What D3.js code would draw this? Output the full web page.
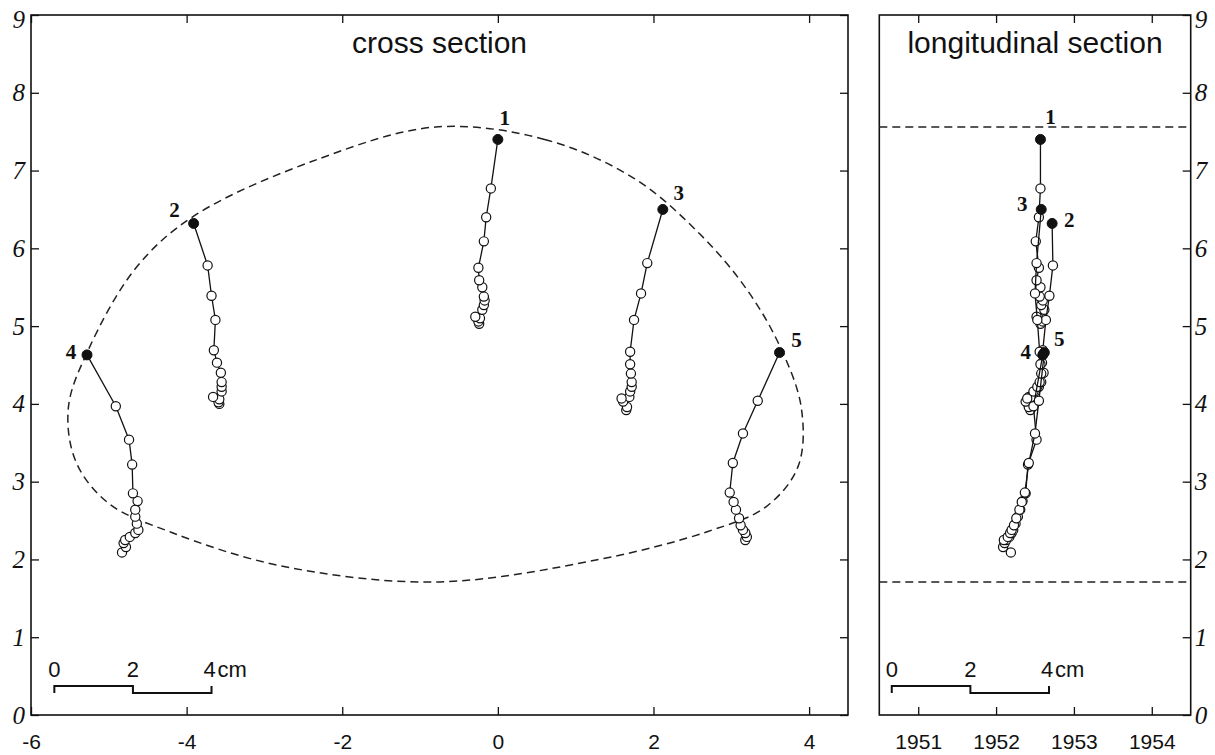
<!DOCTYPE html>
<html>
<head>
<meta charset="utf-8">
<script src="https://cdn.jsdelivr.net/npm/d3@7"></script>
<style>
  html, body { margin: 0; padding: 0; background: #fff; }
  svg { display: block; }
</style>
</head>
<body>
<svg id="chart" width="1215" height="755"></svg>
<script>
// ---------------- DATA ----------------
const panelTitles = ["cross section", "longitudinal section"];
const crossXTicks = [-6, -4, -2, 0, 2, 4];
const longXTicks = [1951, 1952, 1953, 1954];
const yTicks = [0, 1, 2, 3, 4, 5, 6, 7, 8, 9];
const scaleBarLabels = ["0", "2", "4"];
const scaleBarUnit = "cm";
const seriesIds = ["1", "2", "3", "4", "5"];

// series 1
const s1X = [0.00, -0.09, -0.15, -0.18, -0.25, -0.24, -0.20, -0.18, -0.17, -0.18, -0.20, -0.29, -0.23, -0.25, -0.24];
const s1Y = [7.40, 6.77, 6.40, 6.09, 5.75, 5.59, 5.50, 5.38, 5.33, 5.27, 5.21, 5.12, 5.10, 5.06, 5.03];
const s1L = [1952.57, 1952.57, 1952.55, 1952.51, 1952.55, 1952.52, 1952.57, 1952.56, 1952.60, 1952.58, 1952.62, 1952.52, 1952.55, 1952.60, 1952.57];
// series 2
const s2X = [-3.91, -3.73, -3.68, -3.63, -3.65, -3.61, -3.56, -3.55, -3.55, -3.55, -3.66, -3.58, -3.59, -3.58];
const s2Y = [6.32, 5.78, 5.39, 5.08, 4.69, 4.53, 4.40, 4.28, 4.22, 4.16, 4.09, 4.06, 4.02, 4.00];
const s2L = [1952.72, 1952.73, 1952.685, 1952.64, 1952.60, 1952.59, 1952.61, 1952.58, 1952.55, 1952.50, 1952.42, 1952.45, 1952.40, 1952.43];
// series 3
const s3X = [2.12, 1.92, 1.84, 1.75, 1.70, 1.70, 1.71, 1.72, 1.72, 1.70, 1.59, 1.69, 1.61, 1.66, 1.65];
const s3Y = [6.50, 5.81, 5.42, 5.08, 4.67, 4.51, 4.39, 4.28, 4.22, 4.16, 4.07, 4.09, 4.03, 3.96, 3.92];
const s3L = [1952.58, 1952.52, 1952.50, 1952.53, 1952.56, 1952.57, 1952.58, 1952.56, 1952.53, 1952.48, 1952.40, 1952.45, 1952.38, 1952.42, 1952.44];
// series 4
const s4X = [-5.28, -4.91, -4.74, -4.70, -4.69, -4.63, -4.66, -4.66, -4.64, -4.62, -4.66, -4.73, -4.79, -4.81, -4.78, -4.83];
const s4Y = [4.63, 3.97, 3.54, 3.22, 2.85, 2.75, 2.64, 2.55, 2.46, 2.38, 2.34, 2.29, 2.25, 2.21, 2.16, 2.09];
const s4L = [1952.60, 1952.48, 1952.52, 1952.41, 1952.38, 1952.34, 1952.31, 1952.28, 1952.25, 1952.22, 1952.20, 1952.17, 1952.13, 1952.11, 1952.09, 1952.19];
// series 5
const s5X = [3.62, 3.34, 3.15, 3.02, 2.98, 3.03, 3.06, 3.10, 3.12, 3.15, 3.18, 3.20, 3.18];
const s5Y = [4.66, 4.04, 3.62, 3.24, 2.86, 2.74, 2.64, 2.53, 2.44, 2.38, 2.34, 2.29, 2.25];
const s5L = [1952.62, 1952.55, 1952.50, 1952.42, 1952.37, 1952.33, 1952.30, 1952.26, 1952.23, 1952.20, 1952.18, 1952.15, 1952.10];

// dashed cross-section outline (x, y), clockwise from the apex
const outlineX = [-0.80, 0.60, 1.75, 2.60, 3.20, 3.62, 3.90, 3.86, 3.45, 2.70, 1.30, -0.80, -2.80, -4.20, -5.00, -5.42, -5.52, -5.27, -4.65, -3.90, -2.30];
const outlineY = [7.56, 7.40, 6.90, 6.18, 5.47, 4.75, 3.95, 3.20, 2.68, 2.36, 2.00, 1.71, 1.92, 2.35, 2.72, 3.25, 3.95, 4.68, 5.75, 6.42, 7.15];
// dashed lines in the longitudinal section
const longLevels = [7.56, 1.71];

// ---------------- LAYOUT ----------------
const svg = d3.select("#chart");
const plotTop = 15, plotBottom = 715;
const PL = { x0: 31, x1: 848 };
const PR = { x0: 879.3, x1: 1190.7 };
const xC = d3.scaleLinear().domain([-6, 4.5]).range([PL.x0, PL.x1]);
const xY = d3.scaleLinear().domain([1950.5, 1954.5]).range([PR.x0, PR.x1]);
const y = d3.scaleLinear().domain([0, 9]).range([plotBottom, plotTop]);

const sans = "'Liberation Sans', Arial, sans-serif";
const serif = "'Liberation Serif', 'Times New Roman', serif";
const ink = "#111";

const series = [
  { id: seriesIds[0], x: s1X, y: s1Y, l: s1L },
  { id: seriesIds[1], x: s2X, y: s2Y, l: s2L },
  { id: seriesIds[2], x: s3X, y: s3Y, l: s3L },
  { id: seriesIds[3], x: s4X, y: s4Y, l: s4L },
  { id: seriesIds[4], x: s5X, y: s5Y, l: s5L }
];
// label offsets (px: centre x, baseline y) relative to the first (filled) point
const labelOffC = { "1": [7, -14], "2": [-19, -6], "3": [16, -9], "4": [-16, 4], "5": [17, -5.5] };
const labelOffL = { "1": [10, -15.5], "2": [17, 3.3], "3": [-19, 1.4], "4": [-17, 4.5], "5": [15, -6.5] };

function styleAxis(g, fontFamily, fontSize, italic) {
  g.select(".domain").remove();
  g.selectAll(".tick line").attr("stroke", ink).attr("stroke-width", 1.3);
  g.selectAll(".tick text")
    .attr("fill", ink)
    .style("font-family", fontFamily)
    .style("font-size", fontSize + "px")
    .style("font-style", italic ? "italic" : "normal");
}
const fmt = d => String(d);

// ---- Left panel axes ----
svg.append("g").attr("transform", `translate(0,${plotBottom})`)
  .call(d3.axisBottom(xC).tickValues(crossXTicks).tickSizeInner(-8).tickSizeOuter(0).tickPadding(19).tickFormat(fmt))
  .call(g => styleAxis(g, sans, 21, false));
svg.append("g").attr("transform", `translate(0,${plotTop})`)
  .call(d3.axisTop(xC).tickValues(crossXTicks).tickSizeInner(-8).tickSizeOuter(0).tickFormat(""))
  .call(g => styleAxis(g, sans, 21, false));
svg.append("g").attr("transform", `translate(${PL.x0},0)`)
  .call(d3.axisLeft(y).tickValues(yTicks).tickSizeInner(-8).tickSizeOuter(0).tickPadding(6).tickFormat(fmt))
  .call(g => styleAxis(g, serif, 25, true))
  .call(g => g.selectAll(".tick").filter(d => d === 9).select("text").attr("y", 0).attr("dy", "0.5em"));
svg.append("g").attr("transform", `translate(${PL.x1},0)`)
  .call(d3.axisRight(y).tickValues(yTicks).tickSizeInner(-8).tickSizeOuter(0).tickFormat(""))
  .call(g => styleAxis(g, serif, 25, true));

// ---- Right panel axes ----
svg.append("g").attr("transform", `translate(0,${plotBottom})`)
  .call(d3.axisBottom(xY).tickValues(longXTicks).tickSizeInner(-8).tickSizeOuter(0).tickPadding(19).tickFormat(fmt))
  .call(g => styleAxis(g, sans, 21, false));
svg.append("g").attr("transform", `translate(0,${plotTop})`)
  .call(d3.axisTop(xY).tickValues(longXTicks).tickSizeInner(-8).tickSizeOuter(0).tickFormat(""))
  .call(g => styleAxis(g, sans, 21, false));
svg.append("g").attr("transform", `translate(${PR.x1},0)`)
  .call(d3.axisRight(y).tickValues(yTicks).tickSizeInner(-8).tickSizeOuter(0).tickPadding(4).tickFormat(fmt))
  .call(g => styleAxis(g, serif, 25, true))
  .call(g => g.selectAll(".tick").filter(d => d === 9).select("text").attr("y", 0).attr("dy", "0.5em"));

// ---- Frames ----
[PL, PR].forEach(p => {
  svg.append("rect")
    .attr("x", p.x0).attr("y", plotTop)
    .attr("width", p.x1 - p.x0).attr("height", plotBottom - plotTop)
    .attr("fill", "none").attr("stroke", ink).attr("stroke-width", 1.6);
});

// ---- Titles ----
svg.append("text").attr("x", (PL.x0 + PL.x1) / 2).attr("y", 53)
  .attr("text-anchor", "middle").style("font-family", sans).style("font-size", "30px")
  .attr("fill", ink).text(panelTitles[0]);
svg.append("text").attr("x", (PR.x0 + PR.x1) / 2).attr("y", 53)
  .attr("text-anchor", "middle").style("font-family", sans).style("font-size", "30px")
  .attr("fill", ink).text(panelTitles[1]);

// ---- Dashed outline ----
const outline = outlineX.map((v, i) => [v, outlineY[i]]);
svg.append("path")
  .attr("d", d3.line().x(d => xC(d[0])).y(d => y(d[1])).curve(d3.curveCatmullRomClosed.alpha(0.5))(outline))
  .attr("fill", "none").attr("stroke", "#222").attr("stroke-width", 1.5)
  .attr("stroke-dasharray", "8,5");

longLevels.forEach(v => {
  svg.append("line")
    .attr("x1", PR.x0).attr("x2", PR.x1).attr("y1", y(v)).attr("y2", y(v))
    .attr("stroke", "#222").attr("stroke-width", 1.5).attr("stroke-dasharray", "8,5");
});

// ---- Series ----
function drawSeries(xs, key, offs) {
  const g = svg.append("g");
  series.forEach(s => {
    const pts = s.y.map((v, i) => [s[key][i], v]);
    g.append("path")
      .attr("d", d3.line().x(d => xs(d[0])).y(d => y(d[1]))(pts))
      .attr("fill", "none").attr("stroke", ink).attr("stroke-width", 1.3);
    g.selectAll(null).data(pts.slice(1).reverse()).join("circle")
      .attr("cx", d => xs(d[0])).attr("cy", d => y(d[1])).attr("r", 4.6)
      .attr("fill", "#fff").attr("stroke", ink).attr("stroke-width", 1.2);
  });
  series.forEach(s => {
    const p0 = [s[key][0], s.y[0]];
    g.append("circle").attr("cx", xs(p0[0])).attr("cy", y(p0[1])).attr("r", 5)
      .attr("fill", ink).attr("stroke", ink).attr("stroke-width", 1);
    const o = offs[s.id];
    g.append("text").attr("x", xs(p0[0]) + o[0]).attr("y", y(p0[1]) + o[1])
      .attr("text-anchor", "middle")
      .style("font-family", serif).style("font-size", "21px").style("font-weight", "bold")
      .attr("fill", ink).text(s.id);
  });
}
drawSeries(xC, "x", labelOffC);
drawSeries(xY, "l", labelOffL);

// ---- Scale bars ----
function scaleBar(xs, start, seg) {
  const yTop = 686, yBot = 693;
  const xa = xs(start), xb = xs(start + seg), xc = xs(start + 2 * seg);
  svg.append("path")
    .attr("d", `M${xa},${yBot}L${xa},${yTop}L${xb},${yTop}L${xb},${yBot}L${xc},${yBot}L${xc},${yTop}`)
    .attr("fill", "none").attr("stroke", ink).attr("stroke-width", 2);
  [xa, xb, xc].forEach((px, i) => {
    svg.append("text").attr("x", px + (i === 2 ? -2 : 0)).attr("y", 677)
      .attr("text-anchor", "middle").style("font-family", sans).style("font-size", "22px")
      .attr("fill", ink).text(scaleBarLabels[i]);
  });
  svg.append("text").attr("x", xc + 6).attr("y", 677)
    .attr("text-anchor", "start").style("font-family", sans).style("font-size", "22px")
    .attr("fill", ink).text(scaleBarUnit);
}
scaleBar(xC, -5.70, 1.01);
scaleBar(xY, 1950.66, 1.01);
</script>
</body>
</html>
